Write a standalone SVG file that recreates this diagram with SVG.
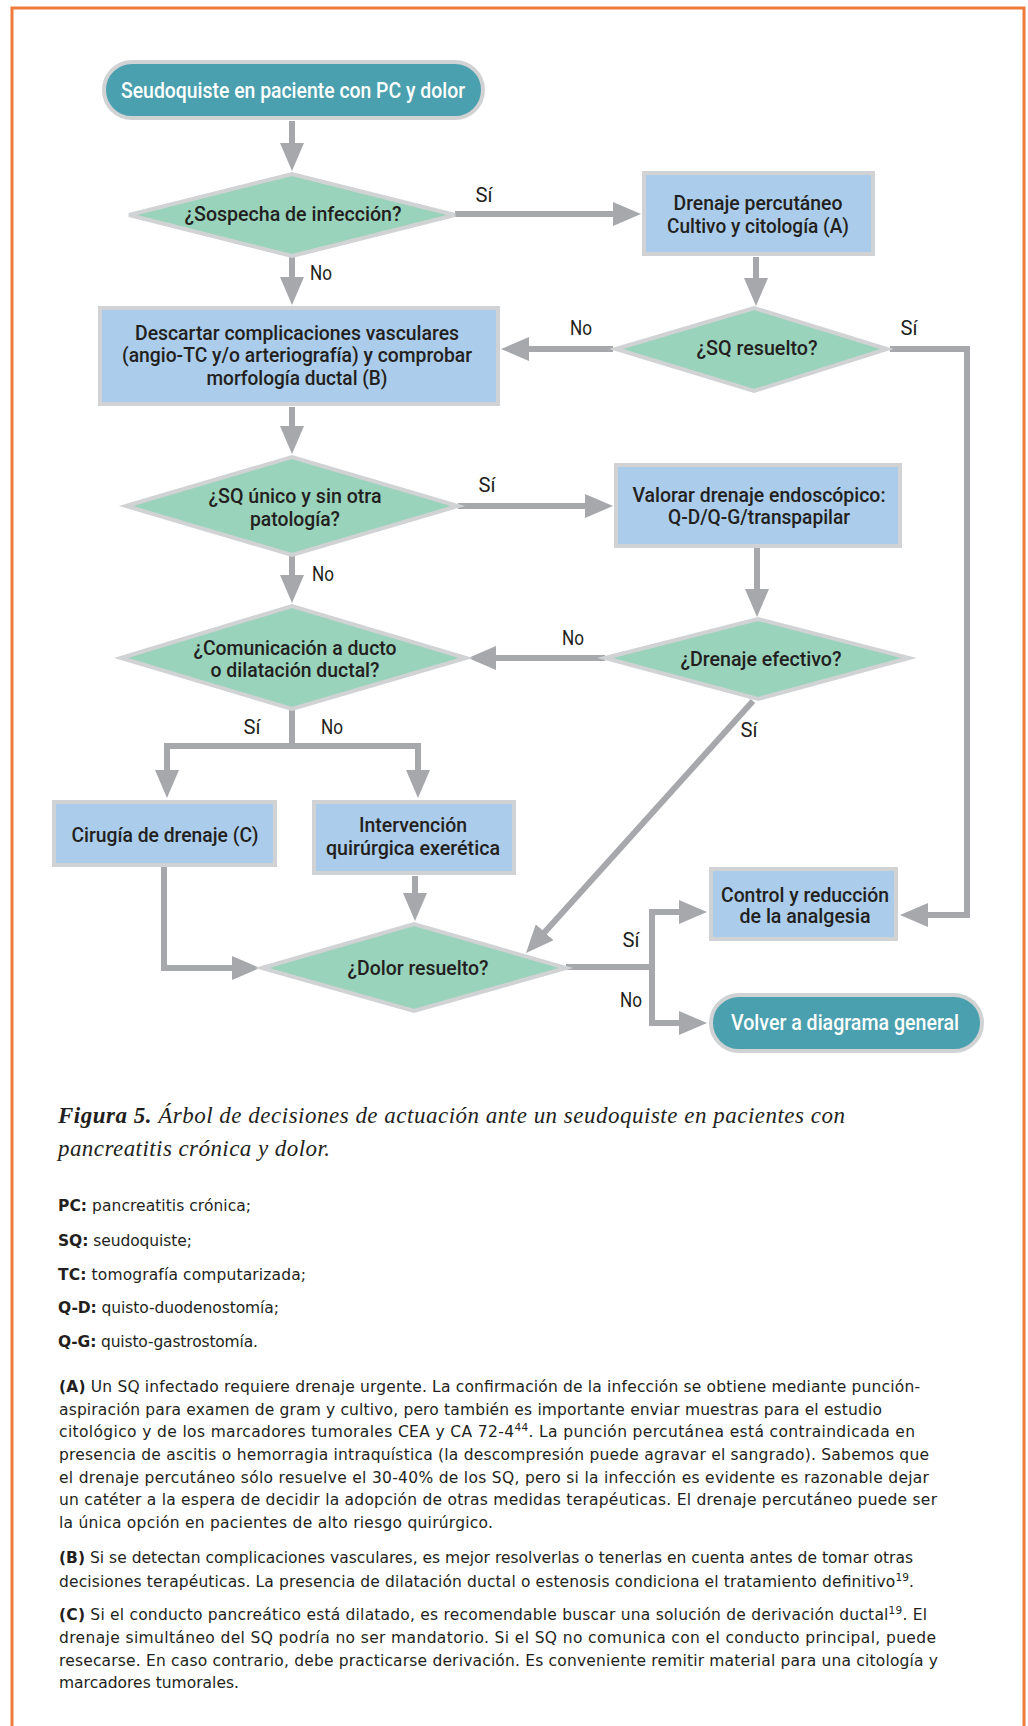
<svg xmlns="http://www.w3.org/2000/svg" width="1028" height="1726" viewBox="0 0 1028 1726">
<defs>
<marker id="ah" markerUnits="userSpaceOnUse" markerWidth="28" markerHeight="24" viewBox="0 0 28 24" refX="18" refY="12" orient="auto">
<path d="M0,0 L28,12 L0,24 Z" fill="#a6a8ab"/>
</marker>
</defs>
<style>
.pill{fill:#4aa0ae;stroke:#d1d2d4;stroke-width:4}
.box{fill:#abcdeb;stroke:#d1d2d4;stroke-width:4}
.dia{fill:#99d3bb;stroke:#d1d2d4;stroke-width:4}
.nt{font-family:Roboto,"Liberation Sans",sans-serif;font-weight:500;font-size:21px;fill:#231f20;text-anchor:middle}
.wt{font-family:Roboto,"Liberation Sans",sans-serif;font-weight:500;font-size:22px;fill:#ffffff;text-anchor:middle}
.lb{font-family:Roboto,"Liberation Sans",sans-serif;font-weight:400;font-size:21px;fill:#231f20;text-anchor:middle}
.cn{fill:none;stroke:#a6a8ab;stroke-width:6;marker-end:url(#ah)}
.cap{font-family:"Liberation Serif",serif;font-style:italic;font-size:23px;fill:#231f20}
.ab{font-family:"DejaVu Sans",sans-serif;font-size:15.5px;fill:#231f20}
.pt{font-family:"DejaVu Sans",sans-serif;font-size:15.5px;fill:#231f20}
.b{font-weight:bold}
</style>
<rect x="0" y="0" width="1028" height="1726" fill="#ffffff"/>
<rect x="12" y="8" width="1012" height="1760" fill="none" stroke="#ef7b3b" stroke-width="3"/>

<g id="connectors">
<path class="cn" d="M292,121 V161"/>
<path class="cn" d="M455,214 H631"/>
<path class="cn" d="M292,257 V295"/>
<path class="cn" d="M756,257 V296"/>
<path class="cn" d="M613,349 H511"/>
<path class="cn" d="M890,349 H967 V915 H910"/>
<path class="cn" d="M292,407 V444"/>
<path class="cn" d="M458,506 H603"/>
<path class="cn" d="M292,556 V593"/>
<path class="cn" d="M757,548 V607"/>
<path class="cn" d="M605,658 H478"/>
<path class="cn" d="M292,710 V746 H167 V788"/>
<path class="cn" d="M289,746 H418 V788"/>
<path class="cn" d="M164,867 V968 H250"/>
<path class="cn" d="M415,876 V911"/>
<path class="cn" d="M753,701 L532.7,945.6"/>
<path class="cn" d="M566,967 H652 V912 H697"/>
<path class="cn" d="M652,964 V1023 H697"/>
<text class="lb" x="484" y="202" textLength="17" lengthAdjust="spacingAndGlyphs">Sí</text>
<text class="lb" x="321" y="280" textLength="22" lengthAdjust="spacingAndGlyphs">No</text>
<text class="lb" x="581" y="335" textLength="22" lengthAdjust="spacingAndGlyphs">No</text>
<text class="lb" x="909" y="335" textLength="17" lengthAdjust="spacingAndGlyphs">Sí</text>
<text class="lb" x="487" y="492" textLength="17" lengthAdjust="spacingAndGlyphs">Sí</text>
<text class="lb" x="323" y="581" textLength="22" lengthAdjust="spacingAndGlyphs">No</text>
<text class="lb" x="573" y="645" textLength="22" lengthAdjust="spacingAndGlyphs">No</text>
<text class="lb" x="749" y="737" textLength="17" lengthAdjust="spacingAndGlyphs">Sí</text>
<text class="lb" x="252" y="734" textLength="17" lengthAdjust="spacingAndGlyphs">Sí</text>
<text class="lb" x="332" y="734" textLength="22" lengthAdjust="spacingAndGlyphs">No</text>
<text class="lb" x="631" y="947" textLength="17" lengthAdjust="spacingAndGlyphs">Sí</text>
<text class="lb" x="631" y="1007" textLength="22" lengthAdjust="spacingAndGlyphs">No</text>
</g>

<g id="start">
<rect class="pill" x="104" y="62" width="379" height="56" rx="28"/>
<text class="wt" x="293" y="98" textLength="344" lengthAdjust="spacingAndGlyphs">Seudoquiste en paciente con PC y dolor</text>
</g>

<g id="d-infeccion">
<polygon class="dia" points="129,215 292,174 455,215 292,256"/>
<text class="nt" x="293" y="221" textLength="217" lengthAdjust="spacingAndGlyphs">¿Sospecha de infección?</text>
</g>

<g id="drenaje-percutaneo">
<rect class="box" x="644" y="173" width="229" height="81"/>
<text class="nt" x="758" y="210" textLength="169" lengthAdjust="spacingAndGlyphs">Drenaje percutáneo</text>
<text class="nt" x="758" y="233" textLength="182" lengthAdjust="spacingAndGlyphs">Cultivo y citología (A)</text>
</g>

<g id="d-sq-resuelto">
<polygon class="dia" points="616,349 754,308 887,349 754,391"/>
<text class="nt" x="757" y="355" textLength="121" lengthAdjust="spacingAndGlyphs">¿SQ resuelto?</text>
</g>

<g id="descartar">
<rect class="box" x="100" y="308" width="398" height="96"/>
<text class="nt" x="297" y="340" textLength="324" lengthAdjust="spacingAndGlyphs">Descartar complicaciones vasculares</text>
<text class="nt" x="297" y="362" textLength="350" lengthAdjust="spacingAndGlyphs">(angio-TC y/o arteriografía) y comprobar</text>
<text class="nt" x="297" y="385" textLength="181" lengthAdjust="spacingAndGlyphs">morfología ductal (B)</text>
</g>

<g id="d-sq-unico">
<polygon class="dia" points="126,506 292,457 458,506 292,555"/>
<text class="nt" x="295" y="503" textLength="173" lengthAdjust="spacingAndGlyphs">¿SQ único y sin otra</text>
<text class="nt" x="295" y="526" textLength="90" lengthAdjust="spacingAndGlyphs">patología?</text>
</g>

<g id="valorar">
<rect class="box" x="616" y="465" width="284" height="81"/>
<text class="nt" x="759" y="502" textLength="253" lengthAdjust="spacingAndGlyphs">Valorar drenaje endoscópico:</text>
<text class="nt" x="759" y="524" textLength="182" lengthAdjust="spacingAndGlyphs">Q-D/Q-G/transpapilar</text>
</g>

<g id="d-drenaje-efectivo">
<polygon class="dia" points="605,658 758,619 909,658 758,699"/>
<text class="nt" x="761" y="666" textLength="161" lengthAdjust="spacingAndGlyphs">¿Drenaje efectivo?</text>
</g>

<g id="d-comunicacion">
<polygon class="dia" points="121,658 292,606 466,658 292,709"/>
<text class="nt" x="295" y="655" textLength="203" lengthAdjust="spacingAndGlyphs">¿Comunicación a ducto</text>
<text class="nt" x="295" y="677" textLength="169" lengthAdjust="spacingAndGlyphs">o dilatación ductal?</text>
</g>

<g id="cirugia">
<rect class="box" x="54" y="802" width="221" height="63"/>
<text class="nt" x="165" y="842" textLength="187" lengthAdjust="spacingAndGlyphs">Cirugía de drenaje (C)</text>
</g>

<g id="intervencion">
<rect class="box" x="314" y="802" width="200" height="71"/>
<text class="nt" x="413" y="832" textLength="108" lengthAdjust="spacingAndGlyphs">Intervención</text>
<text class="nt" x="413" y="855" textLength="174" lengthAdjust="spacingAndGlyphs">quirúrgica exerética</text>
</g>

<g id="d-dolor">
<polygon class="dia" points="262,968 414,924 566,968 414,1011"/>
<text class="nt" x="418" y="975" textLength="141" lengthAdjust="spacingAndGlyphs">¿Dolor resuelto?</text>
</g>

<g id="control">
<rect class="box" x="711" y="869" width="185" height="70"/>
<text class="nt" x="805" y="902" textLength="168" lengthAdjust="spacingAndGlyphs">Control y reducción</text>
<text class="nt" x="805" y="923" textLength="131" lengthAdjust="spacingAndGlyphs">de la analgesia</text>
</g>

<g id="volver">
<rect class="pill" x="711" y="995" width="271" height="56" rx="28"/>
<text class="wt" x="845" y="1030" textLength="228" lengthAdjust="spacingAndGlyphs">Volver a diagrama general</text>
</g>

<g id="caption">
<text class="cap" x="58" y="1123" textLength="787"><tspan font-weight="bold">Figura 5.</tspan> Árbol de decisiones de actuación ante un seudoquiste en pacientes con</text>
<text class="cap" x="58" y="1156" textLength="272">pancreatitis crónica y dolor.</text>
</g>

<g id="abbreviations">
<text class="ab" x="58" y="1211" textLength="193"><tspan class="b">PC:</tspan> pancreatitis crónica;</text>
<text class="ab" x="58" y="1246" textLength="134"><tspan class="b">SQ:</tspan> seudoquiste;</text>
<text class="ab" x="58" y="1280" textLength="248"><tspan class="b">TC:</tspan> tomografía computarizada;</text>
<text class="ab" x="58" y="1313" textLength="221"><tspan class="b">Q-D:</tspan> quisto-duodenostomía;</text>
<text class="ab" x="58" y="1347" textLength="200"><tspan class="b">Q-G:</tspan> quisto-gastrostomía.</text>
</g>

<g id="notes">
<text class="pt" x="59" y="1392" textLength="861"><tspan class="b">(A)</tspan> Un SQ infectado requiere drenaje urgente. La confirmación de la infección se obtiene mediante punción-</text>
<text class="pt" x="59" y="1415" textLength="823">aspiración para examen de gram y cultivo, pero también es importante enviar muestras para el estudio</text>
<text class="pt" x="59" y="1437" textLength="856">citológico y de los marcadores tumorales CEA y CA 72-4<tspan dy="-6" font-size="10.5">44</tspan><tspan dy="6">. La punción percutánea está contraindicada en</tspan></text>
<text class="pt" x="59" y="1460" textLength="870">presencia de ascitis o hemorragia intraquística (la descompresión puede agravar el sangrado). Sabemos que</text>
<text class="pt" x="59" y="1483" textLength="870">el drenaje percutáneo sólo resuelve el 30-40% de los SQ, pero si la infección es evidente es razonable dejar</text>
<text class="pt" x="59" y="1505" textLength="878">un catéter a la espera de decidir la adopción de otras medidas terapéuticas. El drenaje percutáneo puede ser</text>
<text class="pt" x="59" y="1528" textLength="434">la única opción en pacientes de alto riesgo quirúrgico.</text>
<text class="pt" x="59" y="1563" textLength="854"><tspan class="b">(B)</tspan> Si se detectan complicaciones vasculares, es mejor resolverlas o tenerlas en cuenta antes de tomar otras</text>
<text class="pt" x="59" y="1587" textLength="855">decisiones terapéuticas. La presencia de dilatación ductal o estenosis condiciona el tratamiento definitivo<tspan dy="-6" font-size="10.5">19</tspan><tspan dy="6">.</tspan></text>
<text class="pt" x="59" y="1620" textLength="868"><tspan class="b">(C)</tspan> Si el conducto pancreático está dilatado, es recomendable buscar una solución de derivación ductal<tspan dy="-6" font-size="10.5">19</tspan><tspan dy="6">. El</tspan></text>
<text class="pt" x="59" y="1643" textLength="877">drenaje simultáneo del SQ podría no ser mandatorio. Si el SQ no comunica con el conducto principal, puede</text>
<text class="pt" x="59" y="1666" textLength="879">resecarse. En caso contrario, debe practicarse derivación. Es conveniente remitir material para una citología y</text>
<text class="pt" x="59" y="1688" textLength="180">marcadores tumorales.</text>
</g>
</svg>
